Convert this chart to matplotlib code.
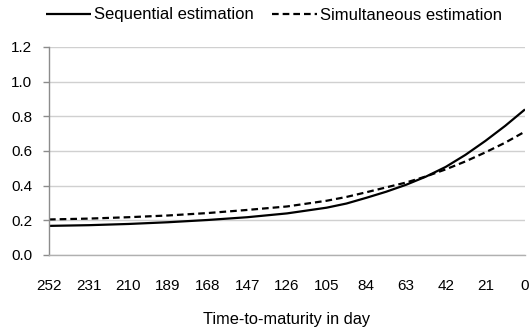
import matplotlib
matplotlib.use("Agg")
import matplotlib.pyplot as plt

plt.rcParams['font.family'] = ['Liberation Sans', 'DejaVu Sans']

days = [252, 231, 210, 189, 168, 147, 126, 105, 94.5, 84, 73.5, 63, 52.5, 42, 31.5, 21, 10.5, 0]
sequential = [0.168, 0.172, 0.179, 0.189, 0.202, 0.218, 0.240, 0.273, 0.297, 0.330, 0.365, 0.405,
              0.452, 0.508, 0.578, 0.658, 0.745, 0.840]
simultaneous = [0.205, 0.210, 0.218, 0.228, 0.242, 0.260, 0.280, 0.313, 0.335, 0.362, 0.390, 0.418,
                0.453, 0.494, 0.540, 0.592, 0.648, 0.712]
x_ticks = [252, 231, 210, 189, 168, 147, 126, 105, 84, 63, 42, 21, 0]
y_ticks = [0.0, 0.2, 0.4, 0.6, 0.8, 1.0, 1.2]

W, H = 532, 329
fig = plt.figure(figsize=(W / 100, H / 100), dpi=100)
ax = fig.add_axes([49 / W, 1 - 255 / H, (525 - 49) / W, (255 - 47) / H])

l1, = ax.plot(days, sequential, color='black', lw=1.6, solid_capstyle='butt',
              label='Sequential estimation')
l2, = ax.plot(days, simultaneous, color='black', lw=1.6, ls=(0, (3.0, 1.8)),
              label='Simultaneous estimation')

ax.set_xlim(252, 0)
ax.set_ylim(0, 1.2)
ax.set_xticks(x_ticks)
ax.set_xticklabels([str(v) for v in x_ticks])
ax.set_yticks(y_ticks)
ax.set_yticklabels([f"{v:.1f}" for v in y_ticks])

ax.grid(axis='y', color='#d0d0d0', lw=1.0)
ax.set_axisbelow(True)
for s in ['top', 'right']:
    ax.spines[s].set_visible(False)
ax.spines['left'].set_color('#8c8c8c')
ax.spines['bottom'].set_color('#b0b0b0')
ax.spines['left'].set_linewidth(1.0)
ax.spines['bottom'].set_linewidth(1.0)

ax.tick_params(axis='x', length=0, pad=17, labelsize=11, colors='black')
ax.tick_params(axis='y', length=4, width=1.0, color='#8c8c8c', pad=8, labelsize=11)

ax.set_xlabel('Time-to-maturity in day', fontsize=11.8, labelpad=14)

fig.legend(handles=[l1, l2], loc='center', bbox_to_anchor=(274 / W, 1 - 15 / H),
           ncol=2, frameon=False, fontsize=12, handlelength=2.7, handletextpad=0.15,
           columnspacing=1.1, borderpad=0, borderaxespad=0)

fig.savefig('out.png', dpi=100)
